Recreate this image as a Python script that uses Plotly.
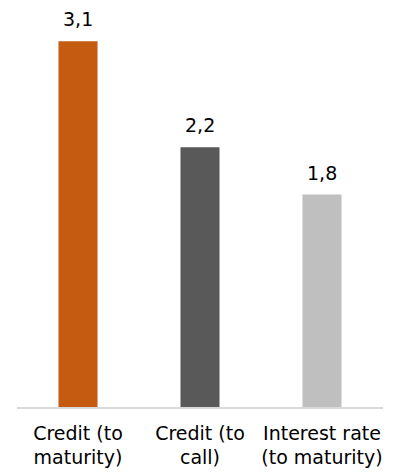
import plotly.graph_objects as go

categories = ["Credit (to<br>maturity)", "Credit (to<br>call)", "Interest rate<br>(to maturity)"]
values = [3.1, 2.2, 1.8]
value_labels = ["3,1", "2,2", "1,8"]
colors = ["#C55A11", "#595959", "#BFBFBF"]

FONT = "DejaVu Sans"

fig = go.Figure(go.Bar(
    x=categories, y=values,
    marker=dict(color=colors, line=dict(width=0)),
    hoverinfo="x+y",
))
for c, v, t in zip(categories, values, value_labels):
    fig.add_annotation(x=c, y=v, text=t, showarrow=False, yanchor="bottom",
                       yshift=9, font=dict(size=19, color="#000000", family=FONT))

fig.update_layout(
    width=403, height=475,
    margin=dict(l=17, r=20, t=10, b=68),
    paper_bgcolor="white", plot_bgcolor="white",
    separators=",.",
    bargap=0.68,
    showlegend=False,
    font=dict(family=FONT, size=19, color="#000000"),
)
fig.update_xaxes(showline=True, linecolor="#D9D9D9", linewidth=1.5, ticks="", showgrid=False,
                 tickfont=dict(size=19, color="#000000", family=FONT), automargin=False,
                 ticklabelstandoff=8)
fig.update_yaxes(visible=False, range=[0, 3.364], showgrid=False, zeroline=False)
# remove the default 8px page margin so the figure fills the window exactly
fig.write_html("out.html",
               config={"displayModeBar": False},
               post_script="document.body.style.margin='0';document.body.style.overflow='hidden';")
